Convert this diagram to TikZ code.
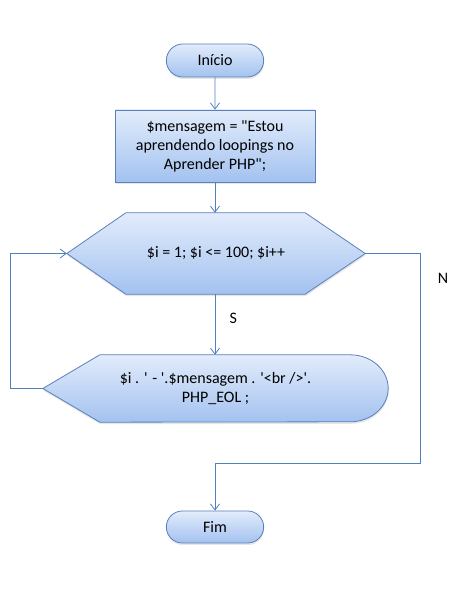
\documentclass[tikz,border=0pt]{standalone}
\usepackage{fontspec}
\setmainfont{Carlito}
\usetikzlibrary{shapes.misc,arrows.meta,shadows,backgrounds}
\definecolor{shapetop}{HTML}{E2ECFB}
\definecolor{shapebot}{HTML}{A3C2F0}
\definecolor{shapeline}{HTML}{5A80BC}
\definecolor{connline}{HTML}{4F81BD}
\newcommand\aps{\textquotesingle}
\newcommand\dqt{\textquotedbl}
\tikzset{
  flowfill/.style={draw=shapeline,line width=0.8pt,top color=shapetop,bottom color=shapebot,
    drop shadow={shadow xshift=0.5pt,shadow yshift=-2pt,opacity=0.2}},
  term/.style={flowfill,rounded rectangle,minimum width=104pt,minimum height=33pt},
  procbox/.style={flowfill,rectangle,minimum width=200pt,minimum height=72pt,align=center},
  hold/.style={inner sep=0pt,align=center},
  conn/.style={connline,line width=0.8pt,-{Straight Barb[length=6pt,width=9pt]}}
}
\begin{document}
\begin{tikzpicture}[x=1pt,y=1pt,font=\fontsize{16}{19}\selectfont]
\useasboundingbox (0,0) rectangle (458,590);
\node[term](inicio) at (215,529.5){Início};
\node[procbox](msg) at (215,444){\$mensagem = \dqt{}Estou\\aprendendo loopings no\\Aprender PHP\dqt;};
\node[hold,minimum width=298pt,minimum height=81pt](loop) at (216,336.5){\$i = 1; \$i <= 100; \$i++};
\node[hold,minimum width=345pt,minimum height=67pt](body) at (215.5,201.5)
    {\$i . \aps{} - \aps.\$mensagem . \aps<br />\aps.\\PHP\_EOL ;};
\node[term,minimum height=32pt](fim) at (215,63){Fim};
\begin{scope}[on background layer]
\path[flowfill] (loop.west) -- ([xshift=59pt]loop.north west) -- ([xshift=-60pt]loop.north east)
    -- (loop.east) -- ([xshift=-60pt]loop.south east) -- ([xshift=59pt]loop.south west) -- cycle;
\path[flowfill] (body.west) -- ([xshift=57pt]body.north west) -- ([xshift=-38pt]body.north east)
    arc(90:-90:38pt and 33.5pt) -- ([xshift=57pt]body.south west) -- cycle;
\end{scope}
\coordinate (backL) at (10,0);
\coordinate (rightX) at (420,127);
\draw[conn] (inicio) -- (msg);
\draw[conn] (msg.south) -- (msg.south |- loop.north);
\draw[conn] (loop.south -| msg.south) -- node[right=11pt,pos=0.4,text=black]{S} (msg.south |- body.north);
\draw[conn] (body.west) -- (body.west -| backL) |- (loop.west);
\draw[conn] (loop.east) -| (rightX) -| (fim.north);
\node (nlab) at (443,312){N};
\end{tikzpicture}
\end{document}
